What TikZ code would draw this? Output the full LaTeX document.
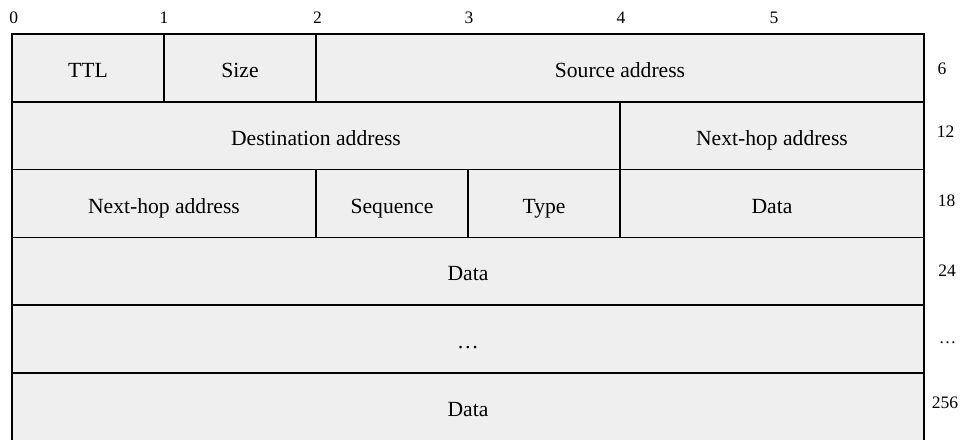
\documentclass[tikz,border=0pt]{standalone}
\usepackage{fontspec}
\setmainfont{Liberation Serif}
\definecolor{cellfill}{RGB}{239,239,239}
\tikzset{
  cellbox/.style={draw=black, fill=cellfill, line width=0.75pt},
  celltext/.style={anchor=base, inner sep=0pt, font=\fontsize{10.8pt}{12pt}\selectfont},
  ticklabel/.style={anchor=base, inner sep=0pt, font=\fontsize{8.75pt}{10pt}\selectfont}
}
% one field of the frame: corners (x1,y1), (x2,y2), node name, text
\newcommand\framefield[6]{%
  \draw[cellbox] (#1,#2) rectangle (#3,#4);
  \node[celltext] (#5) at ({(#1+#3)/2},{(#2+#4)/2+9.5}) {#6};%
}
\begin{document}
\begin{tikzpicture}[x=0.5pt,y=-0.5pt]
\useasboundingbox (0,0) rectangle (968,439);
% byte offsets along the top
\node[ticklabel] (b0) at (13.7,23) {0};
\node[ticklabel] (b1) at (164,23) {1};
\node[ticklabel] (b2) at (317.5,23) {2};
\node[ticklabel] (b3) at (469,23) {3};
\node[ticklabel] (b4) at (621,23) {4};
\node[ticklabel] (b5) at (774,23) {5};
% row 1
\framefield{12}{34}{164}{101.8}{ttl}{TTL}
\framefield{164}{34}{316}{101.8}{size}{Size}
\framefield{316}{34}{924}{101.8}{src}{Source address}
% row 2
\framefield{12}{101.8}{620}{169.6}{dst}{Destination address}
\framefield{620}{101.8}{924}{169.6}{nhopa}{Next-hop address}
% row 3
\framefield{12}{169.6}{316}{237.4}{nhopb}{Next-hop address}
\framefield{316}{169.6}{468}{237.4}{seq}{Sequence}
\framefield{468}{169.6}{620}{237.4}{type}{Type}
\framefield{620}{169.6}{924}{237.4}{dataa}{Data}
% rows 4-5
\framefield{12}{237.4}{924}{305.2}{datab}{Data}
\framefield{12}{305.2}{924}{373}{dots}{…}
% last row runs past the lower edge of the page
\draw[cellbox] (12,373) rectangle (924,470);
\node[celltext] (datac) at (468,416.4) {Data};
% cumulative byte counts on the right
\node[ticklabel] (e1) at (942,74) {6};
\node[ticklabel] (e2) at (945.5,137.7) {12};
\node[ticklabel] (e3) at (946.5,206) {18};
\node[ticklabel] (e4) at (947,276.7) {24};
\node[ticklabel] (e5) at (947.5,343) {…};
\node[ticklabel] (e6) at (945,408.3) {256};
\end{tikzpicture}
\end{document}
